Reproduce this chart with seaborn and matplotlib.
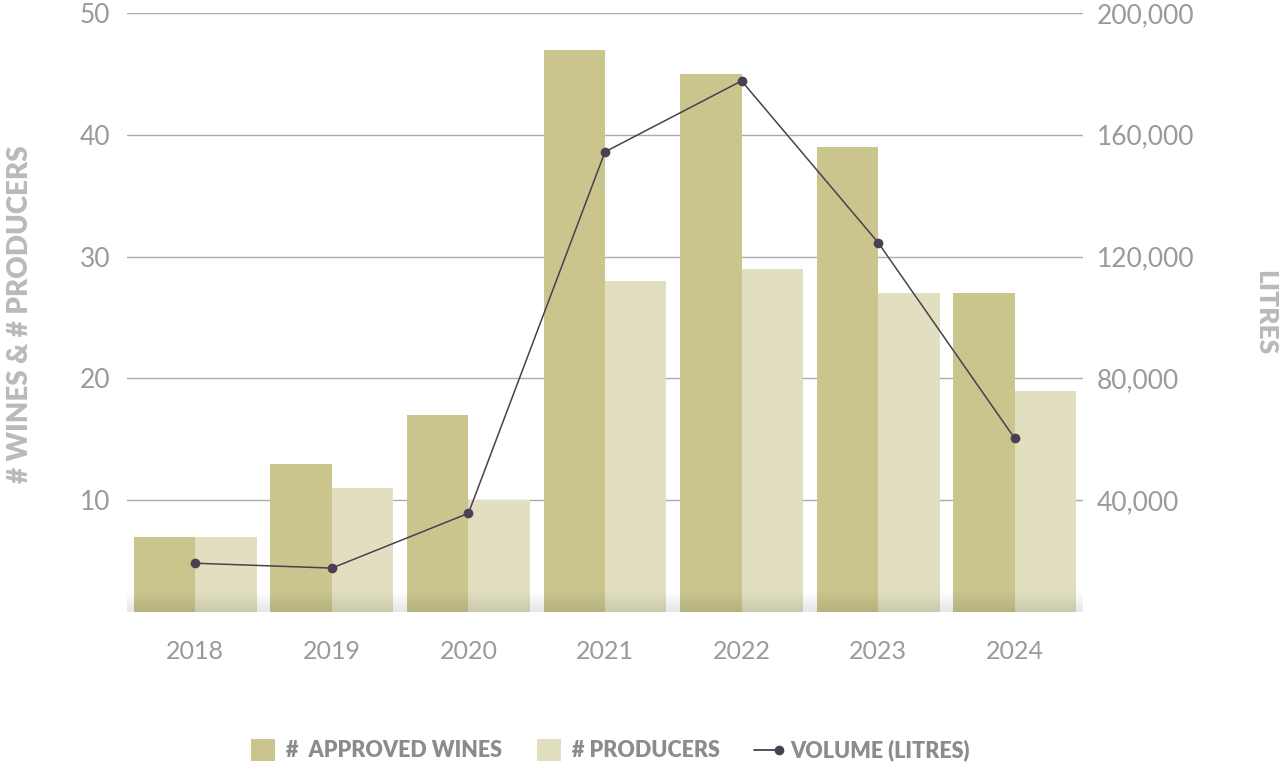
import matplotlib
matplotlib.use("Agg")
import matplotlib.pyplot as plt
import matplotlib.colors as mcolors
from matplotlib.patches import Patch
from matplotlib.lines import Line2D
from matplotlib.legend_handler import HandlerLine2D
import seaborn as sns
import numpy as np
import pandas as pd

years = ["2018", "2019", "2020", "2021", "2022", "2023", "2024"]
approved_wines = [7, 13, 17, 47, 45, 39, 27]
producers = [7, 11, 10, 28, 29, 27, 19]
volume_litres = [19300, 17700, 35700, 154400, 177700, 124600, 60300]

left_ticks = [10, 20, 30, 40, 50]
right_ticks = [40000, 80000, 120000, 160000, 200000]

c_wines = "#c9c58c"
c_prod = "#e1dfc0"
c_line = "#4a4052"
c_tick = "#9a9a9a"
c_label = "#bababa"
c_legend = "#8c8c8c"


class LineEndMarker(HandlerLine2D):
    # legend key: short line with the dot at its right end
    def create_artists(self, legend, orig_handle, xdescent, ydescent,
                       width, height, fontsize, trans):
        y = height / 2 - ydescent
        x1 = width - xdescent
        line = Line2D([-xdescent, x1], [y, y], color=c_line, linewidth=1.3)
        dot = Line2D([x1], [y], color=c_line, marker="o", markersize=7,
                     markeredgewidth=0, linestyle="none")
        line.set_transform(trans)
        dot.set_transform(trans)
        return [line, dot]


df = pd.DataFrame({
    "year": years * 2,
    "value": approved_wines + producers,
    "series": ["wines"] * len(years) + ["producers"] * len(years),
})

sns.set_theme(style="white")
plt.rcParams["font.family"] = ["Lato", "DejaVu Sans"]

fig = plt.figure(figsize=(12.86, 7.65), dpi=100)
ax = fig.add_axes([127 / 1286, 153 / 765, 956 / 1286, 599 / 765])

sns.barplot(data=df, x="year", y="value", hue="series", palette=[c_wines, c_prod],
            width=0.9, saturation=1, ax=ax, legend=False, zorder=2,
            linewidth=0, edgecolor="none")

ybot = 0.82
ax.set_ylim(ybot, 50)
ax.set_xlim(-0.5, 6.5)
ax.set_yticks(left_ticks)
ax.set_yticklabels([str(t) for t in left_ticks])
ax.grid(axis="y", color="#aaaaaa", linewidth=1)
ax.set_axisbelow(True)
ax.set_xlabel("")
ax.set_ylabel("")
for s in ax.spines.values():
    s.set_visible(False)
ax.tick_params(axis="y", length=0, pad=12, labelsize=19, labelcolor=c_tick)
ax.tick_params(axis="x", length=0, pad=20, labelsize=18, labelcolor=c_tick)

# soft shadow at the bottom edge
grad = np.linspace(0, 1, 100).reshape(-1, 1)
shade = mcolors.LinearSegmentedColormap.from_list(
    "shade", [(0, 0, 0, 0.10), (0, 0, 0, 0.0)])
ax.imshow(grad, extent=[-0.5, 6.5, ybot, 2.6], origin="lower", aspect="auto",
          cmap=shade, zorder=3)
ax.set_xlim(-0.5, 6.5)
ax.set_ylim(ybot, 50)

ax2 = ax.twinx()
sns.lineplot(x=np.arange(len(years)), y=volume_litres, ax=ax2, color=c_line,
             linewidth=1.1, marker="o", markersize=7, markeredgewidth=0)
ax2.set_ylim(ybot * 4000, 200000)
ax2.set_yticks(right_ticks)
ax2.set_yticklabels([f"{t:,}" for t in right_ticks])
ax2.grid(False)
for s in ax2.spines.values():
    s.set_visible(False)
ax2.tick_params(axis="y", length=0, pad=10, labelsize=19, labelcolor=c_tick)

fig.text(20 / 1286, 1 - 314 / 765, "# WINES & # PRODUCERS", rotation=90,
         ha="center", va="center", fontsize=20, fontweight="heavy", color=c_label)
fig.text(1265 / 1286, 1 - 313 / 765, "LITRES", rotation=270,
         ha="center", va="center", fontsize=19, fontweight="heavy", color=c_label)

handles = [
    Patch(facecolor=c_wines, edgecolor="none"),
    Patch(facecolor=c_prod, edgecolor="none"),
    Line2D([], [], color=c_line),
]
labels = ["#  APPROVED WINES", "# PRODUCERS", "VOLUME (LITRES)"]
leg = fig.legend(handles, labels, loc="center", bbox_to_anchor=(610 / 1286, 1 - 750 / 765),
                 ncol=3, frameon=False, fontsize=15.5,
                 handlelength=1.15, handleheight=1.25, handletextpad=0.5,
                 columnspacing=1.6, handler_map={Line2D: LineEndMarker()})
for t in leg.get_texts():
    t.set_color(c_legend)
    t.set_fontweight("heavy")

fig.savefig("out.png", dpi=100)
